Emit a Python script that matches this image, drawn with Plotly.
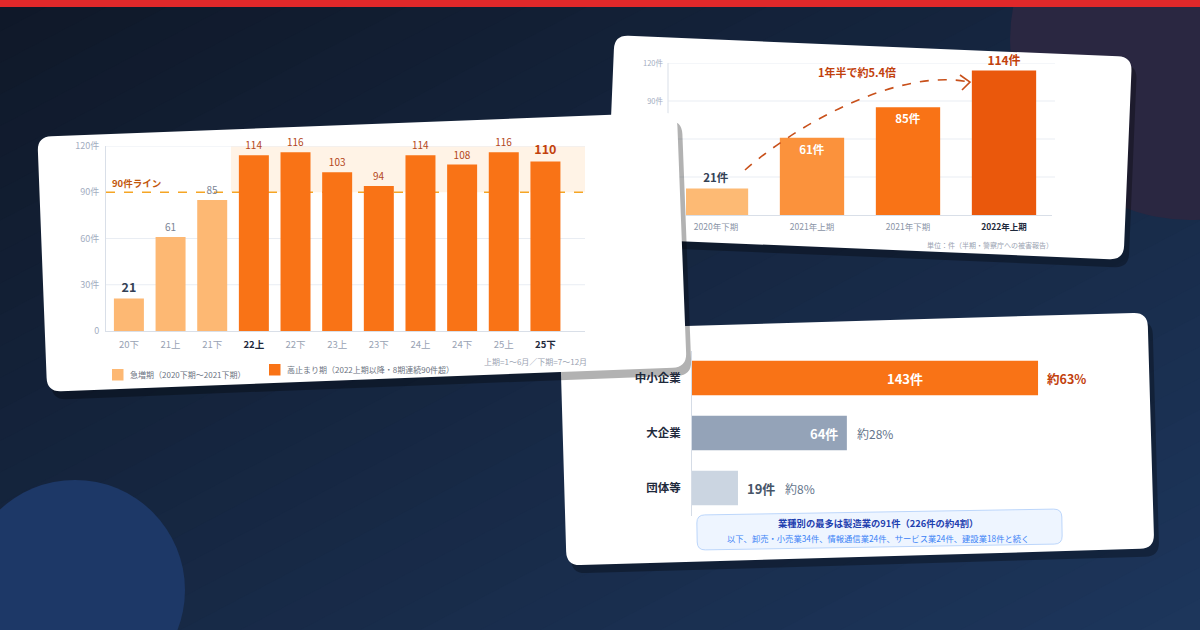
import math
import plotly.graph_objects as go

W, H = 1200, 630

# ---------------- data ----------------
p1_labels = ["20下", "21上", "21下", "22上", "22下", "23上", "23下", "24上", "24下", "25上", "25下"]
p1_values = [21, 61, 85, 114, 116, 103, 94, 114, 108, 116, 110]
p1_phase = ["surge", "surge", "surge", "high", "high", "high", "high", "high", "high", "high", "high"]
p1_bold_ticks = ["22上", "25下"]
p1_threshold = 90
p1_band_top = 120
p1_yticks = [0, 30, 60, 90, 120]
p1_yticktext = ["0", "30件", "60件", "90件", "120件"]
p1_legend = ["急増期（2020下期〜2021下期）", "高止まり期（2022上期以降・8期連続90件超）"]
p1_note = "上期=1〜6月／下期=7〜12月"
p1_line_label = "90件ライン"

p2_labels = ["2020年下期", "2021年上期", "2021年下期", "2022年上期"]
p2_values = [21, 61, 85, 114]
p2_grid = [30, 60, 90, 120]
p2_yticks = [90, 120]
p2_yticktext = ["90件", "120件"]
p2_callout = "1年半で約5.4倍"
p2_note = "単位：件（半期・警察庁への被害報告）"

p3_labels = ["中小企業", "大企業", "団体等"]
p3_values = [143, 64, 19]
p3_pcts = ["約63%", "約28%", "約8%"]
p3_box_title = "業種別の最多は製造業の91件（226件の約4割）"
p3_box_sub = "以下、卸売・小売業34件、情報通信業24件、サービス業24件、建設業18件と続く"

# ---------------- helpers ----------------
FONT = "Noto Sans CJK JP, Noto Sans, sans-serif"
C_LIGHT = "#fdb873"
C_DARK = "#f97316"


def px(x):
    return x / W


def py(y):
    return 1 - y / H


def P(x, y):
    return f"{px(x):.5f},{py(y):.5f}"


def rrect_path(cx, cy, w, h, ang, r):
    a = math.radians(ang)
    c, s = math.cos(a), math.sin(a)

    def T(dx, dy):
        return P(cx + dx * c - dy * s, cy + dx * s + dy * c)

    hw, hh = w / 2, h / 2
    d = f"M {T(-hw + r, -hh)} L {T(hw - r, -hh)} Q {T(hw, -hh)} {T(hw, -hh + r)} "
    d += f"L {T(hw, hh - r)} Q {T(hw, hh)} {T(hw - r, hh)} "
    d += f"L {T(-hw + r, hh)} Q {T(-hw, hh)} {T(-hw, hh - r)} "
    d += f"L {T(-hw, -hh + r)} Q {T(-hw, -hh)} {T(-hw + r, -hh)} Z"
    return d


def lerp_col(c0, c1, t):
    a = [int(c0[i:i + 2], 16) for i in (1, 3, 5)]
    b = [int(c1[i:i + 2], 16) for i in (1, 3, 5)]
    return "#" + "".join(f"{round(a[k] + (b[k] - a[k]) * t):02x}" for k in range(3))


shapes = []

# background diagonal gradient
N = 40
for i in range(N):
    c0 = i / N
    c1 = (i + 1.6) / N
    col = lerp_col("#0f1828", "#1d365c", (i + 0.5) / N)
    pts = [(-0.1, -0.1 + 1 - 2 * c0), (1.1, 1.1 + 1 - 2 * c0), (1.1, 1.1 + 1 - 2 * c1), (-0.1, -0.1 + 1 - 2 * c1)]
    d = "M " + " L ".join(f"{x:.4f},{y:.4f}" for x, y in pts) + " Z"
    shapes.append(dict(type="path", path=d, xref="paper", yref="paper", layer="below",
                       fillcolor=col, line=dict(width=0)))

# decorative circles
shapes.append(dict(type="circle", xref="paper", yref="paper", layer="below",
                   x0=px(1010), x1=px(1370), y0=py(220), y1=py(-140),
                   fillcolor="#2a2741", line=dict(width=0)))
shapes.append(dict(type="circle", xref="paper", yref="paper", layer="below",
                   x0=px(-35), x1=px(185), y0=py(700), y1=py(480),
                   fillcolor="#1d3867", line=dict(width=0)))


def card(cx, cy, w, h, ang, r=14, sh=(5, 8), alpha=0.3):
    shapes.append(dict(type="path", path=rrect_path(cx + sh[0], cy + sh[1], w, h, ang, r),
                       xref="paper", yref="paper", layer="below",
                       fillcolor=f"rgba(0,0,0,{alpha})", line=dict(width=0)))
    shapes.append(dict(type="path", path=rrect_path(cx, cy, w, h, ang, r),
                       xref="paper", yref="paper", layer="below",
                       fillcolor="#ffffff", line=dict(width=0)))


# card 2 (top right)
card(869, 147.5, 518, 203, 2.4)
for g in p2_grid:
    shapes.append(dict(type="line", xref="paper", yref="y2", layer="below",
                       x0=px(668), x1=px(1055), y0=g, y1=g,
                       line=dict(color="#e9edf3", width=1)))
shapes.append(dict(type="line", xref="paper", yref="y2", layer="below",
                   x0=px(668), x1=px(668), y0=0, y1=122,
                   line=dict(color="#d9dfe8", width=1)))

# card 3 (bottom right)
card(857, 439, 588, 236, -1.66)
shapes.append(dict(type="path", path=rrect_path(879.5, 529.5, 365, 35, -0.95, 8),
                   xref="paper", yref="paper", layer="below",
                   fillcolor="#eef5ff", line=dict(color="#bcd6fb", width=1)))

# card 1 (left, on top)
card(362, 252, 640, 255, -2.2, sh=(5, 8), alpha=0.3)

# card 1 legend squares
shapes.append(dict(type="rect", xref="paper", yref="paper", layer="below",
                   x0=px(112), x1=px(123.5), y0=py(380.5), y1=py(369),
                   fillcolor=C_LIGHT, line=dict(width=0)))
shapes.append(dict(type="rect", xref="paper", yref="paper", layer="below",
                   x0=px(269), x1=px(280.5), y0=py(375.5), y1=py(364),
                   fillcolor=C_DARK, line=dict(width=0)))

# card 1 highlight band, gridlines, threshold line (all behind the bars)
shapes.append(dict(type="rect", xref="x domain", yref="y", layer="below",
                   x0=(2.45 + 0.55) / 11.5, x1=1, y0=p1_threshold, y1=p1_band_top,
                   fillcolor="#fff3e6", line=dict(width=0)))
for g in p1_yticks[1:]:
    if g == p1_threshold:
        continue
    shapes.append(dict(type="line", xref="x domain", yref="y", layer="below",
                       x0=0, x1=1, y0=g, y1=g, line=dict(color="#e9edf3", width=1)))
shapes.append(dict(type="line", xref="x domain", yref="y", layer="below",
                   x0=0, x1=1, y0=p1_threshold, y1=p1_threshold,
                   line=dict(color="#f5a524", width=1.3, dash="dash")))

# top red bar
shapes.append(dict(type="rect", xref="paper", yref="paper", layer="above",
                   x0=0, x1=1, y0=py(7), y1=1, fillcolor="#e0282a", line=dict(width=0)))

# card 2 curved dashed arrow
shapes.append(dict(type="path", xref="paper", yref="paper", layer="above",
                   path=f"M {P(745, 170)} C {P(800, 122)} {P(900, 68)} {P(969, 82)}",
                   line=dict(color="#c8501a", width=1.6, dash="dash")))
shapes.append(dict(type="path", xref="paper", yref="paper", layer="above",
                   path=f"M {P(960, 75)} L {P(970, 82)} L {P(962, 90)}",
                   line=dict(color="#c8501a", width=1.6)))

fig = go.Figure()

# ---------------- card 1 bars ----------------
n1 = len(p1_values)
t1, s1, c1 = [], [], []
for i, v in enumerate(p1_values):
    emph = i in (0, n1 - 1)
    t1.append(f"<b>{v}</b>" if emph else str(v))
    s1.append(12.5 if emph else 10)
    if p1_phase[i] == "surge":
        c1.append("#334155" if emph else "#7b8494")
    else:
        c1.append("#c2410c" if emph else "#b4471a")

fig.add_trace(go.Bar(
    x=p1_labels, y=p1_values, xaxis="x", yaxis="y", width=0.72,
    marker=dict(color=[C_LIGHT if ph == "surge" else C_DARK for ph in p1_phase], line=dict(width=0)),
    text=t1, textposition="outside", cliponaxis=False,
    textfont=dict(size=s1, color=c1, family=FONT), hoverinfo="skip"))

tt1 = [f"<b><span style='color:#1e293b'>{l}</span></b>" if l in p1_bold_ticks else l for l in p1_labels]

# ---------------- card 2 bars ----------------
fig.add_trace(go.Bar(
    x=p2_labels, y=p2_values, xaxis="x2", yaxis="y2", width=0.67,
    marker=dict(color=["#fdba74", "#fb923c", "#f97316", "#ea580c"], line=dict(width=0)),
    text=[f"<b>{v}件</b>" for v in p2_values],
    textposition=["outside", "inside", "inside", "outside"], insidetextanchor="end",
    cliponaxis=False,
    textfont=dict(size=[11.5, 11.5, 11.5, 12], color=["#334155", "#ffffff", "#ffffff", "#c2410c"], family=FONT),
    hoverinfo="skip"))

tt2 = [f"<b><span style='color:#1e293b'>{l}</span></b>" if i == len(p2_labels) - 1 else l
       for i, l in enumerate(p2_labels)]

# ---------------- card 3 bars ----------------
fig.add_trace(go.Bar(
    y=p3_labels, x=p3_values, orientation="h", xaxis="x3", yaxis="y3", width=0.63,
    marker=dict(color=["#f97316", "#94a3b8", "#cbd5e1"], line=dict(width=0)),
    hoverinfo="skip"))


def pa(x, y, text, size, color, xanchor="center", yanchor="middle"):
    return dict(xref="paper", yref="paper", x=px(x), y=py(y), text=text, showarrow=False,
                xanchor=xanchor, yanchor=yanchor, font=dict(size=size, color=color))


annotations = []
# card 1 annotations
annotations.append(dict(xref="paper", yref="y", x=px(110), y=p1_threshold, yshift=9,
                        text=f"<b>{p1_line_label}</b>", showarrow=False, xanchor="left", yanchor="middle",
                        font=dict(size=9.5, color="#c2570c")))
annotations.append(pa(128, 374.5, p1_legend[0], 8, "#6b7280", xanchor="left"))
annotations.append(pa(285, 369.5, p1_legend[1], 8, "#6b7280", xanchor="left"))
annotations.append(pa(589, 361, p1_note, 8, "#9aa3b2", xanchor="right"))

# card 2 annotations
annotations.append(pa(857, 72, f"<b>{p2_callout}</b>", 11, "#c2410c"))
annotations.append(pa(990, 245, p2_note, 7, "#9aa3b2"))

# card 3 annotations
count_style = [
    dict(xf=0.615, anchor="center", shift=0, color="#ffffff"),
    dict(xf=1.0, anchor="right", shift=-7, color="#ffffff"),
    dict(xf=1.0, anchor="left", shift=7, color="#475569"),
]
pct_style = [
    dict(shift=7, color="#c2410c", size=12.5),
    dict(shift=8, color="#64748b", size=12),
    dict(shift=45, color="#64748b", size=12),
]
for lab, v, pc, cs, ps in zip(p3_labels, p3_values, p3_pcts, count_style, pct_style):
    annotations.append(dict(xref="x3", yref="y3", x=v * cs["xf"], y=lab, xshift=cs["shift"],
                            xanchor=cs["anchor"], yanchor="middle", text=f"<b>{v}件</b>", showarrow=False,
                            font=dict(size=13, color=cs["color"])))
    annotations.append(dict(xref="x3", yref="y3", x=v, y=lab, xshift=ps["shift"], xanchor="left",
                            yanchor="middle",
                            text=f"<b>{pc}</b>" if ps["color"] == "#c2410c" else pc, showarrow=False,
                            font=dict(size=ps["size"], color=ps["color"])))
annotations.append(pa(878, 523, f"<b>{p3_box_title}</b>", 9.3, "#1e40af"))
annotations.append(pa(878, 538, p3_box_sub, 8.3, "#3b82f6"))

axis_common = dict(fixedrange=True, zeroline=False, automargin=False)

fig.update_layout(
    width=W, height=H, margin=dict(l=0, r=0, t=0, b=0, pad=0, autoexpand=False),
    paper_bgcolor="#142139", plot_bgcolor="rgba(0,0,0,0)",
    font=dict(family=FONT), showlegend=False, barmode="overlay",
    shapes=shapes, annotations=annotations,
    xaxis=dict(domain=[px(106), px(585)], anchor="y", range=[-0.55, 10.95], type="category",
               showline=True, linecolor="#d9dfe8", showgrid=False, ticks="",
               tickvals=p1_labels, ticktext=tt1, tickfont=dict(size=9.5, color="#98a2b3"),
               ticklabelstandoff=5, **axis_common),
    yaxis=dict(domain=[py(331), py(146)], anchor="x", range=[0, 120],
               tickvals=p1_yticks, ticktext=p1_yticktext, tickfont=dict(size=9, color="#a3adbf"),
               showgrid=False, showline=True, linecolor="#d9dfe8", ticks="",
               ticklabelstandoff=4, **axis_common),
    xaxis2=dict(domain=[px(686), px(1052)], anchor="y2", range=[-0.3125, 3.5], type="category",
                showline=True, linecolor="#d9dfe8", showgrid=False, ticks="",
                tickvals=p2_labels, ticktext=tt2, tickfont=dict(size=8.5, color="#8a94a6"),
                ticklabelstandoff=4, **axis_common),
    yaxis2=dict(domain=[py(215), py(63)], anchor="free", position=px(668), range=[0, 120],
                tickvals=p2_yticks, ticktext=p2_yticktext, tickfont=dict(size=7.5, color="#a3adbf"),
                showgrid=False, showline=False, ticks="", ticklabelstandoff=5, **axis_common),
    xaxis3=dict(domain=[px(692), px(1130)], anchor="y3", range=[0, 181], visible=False, **axis_common),
    yaxis3=dict(domain=[py(515.5), py(350.5)], anchor="x3", type="category", range=[2.5, -0.5],
                showline=True, linecolor="#d5dce6", showgrid=False, ticks="",
                tickvals=p3_labels, ticktext=[f"<b>{l}</b>" for l in p3_labels],
                tickfont=dict(size=11.5, color="#1e293b"), ticklabelstandoff=8, **axis_common),
)

fig.write_html("out.html", config={"displayModeBar": False},
               post_script="document.documentElement.style.margin='0';document.body.style.margin='0';")
